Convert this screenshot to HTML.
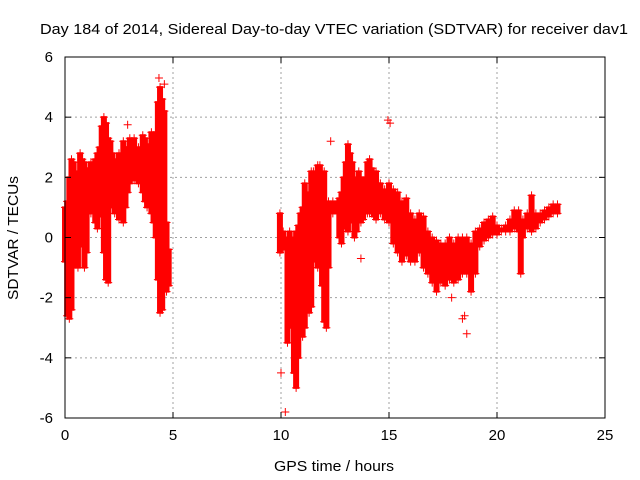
<!DOCTYPE html>
<html><head><meta charset="utf-8"><style>
body{margin:0;background:#fff}
svg{display:block;font-family:"Liberation Sans",sans-serif}
</style></head><body>
<svg id="chart" width="640" height="480">
<text x="334" y="34" text-anchor="middle" font-size="15" textLength="588" lengthAdjust="spacingAndGlyphs">Day 184 of 2014, Sidereal Day-to-day VTEC variation (SDTVAR) for receiver dav1</text>
<text x="334" y="471" text-anchor="middle" font-size="15" textLength="120" lengthAdjust="spacingAndGlyphs">GPS time / hours</text>
<text transform="translate(18,238) rotate(-90)" text-anchor="middle" font-size="15" textLength="124" lengthAdjust="spacingAndGlyphs">SDTVAR / TECUs</text>
<g id="grid"></g><g id="marks"></g><g id="axes"></g>
</svg>
<script>
const times=[0,0.1,0.2,0.3,0.4,0.5,0.6,0.7,0.8,0.9,1.0,1.1,1.2,1.3,1.4,1.5,1.6,1.7,1.8,1.9,2.0,2.1,2.2,2.3,2.4,2.5,2.6,2.7,2.8,2.9,3.0,3.2,3.4,3.6,3.7,3.8,3.9,4.0,4.1,4.2,4.3,4.4,4.5,4.6,4.7,4.8,
9.95,10.1,10.3,10.4,10.5,10.6,10.7,10.8,10.9,11.0,11.1,11.2,11.3,11.4,11.5,11.6,11.7,11.8,11.9,12.0,12.1,12.2,12.4,12.6,12.7,12.8,12.9,13.0,13.1,13.2,13.3,13.4,13.5,13.6,13.7,13.8,13.9,14.0,14.1,14.2,14.3,14.4,14.5,14.6,14.8,15.0,15.2,15.4,15.6,15.8,16.0,16.2,16.4,16.6,16.8,17.0,17.2,17.4,17.6,17.8,18.0,18.2,18.4,18.6,18.8,19.0,19.2,19.4,19.6,19.8,20.0,20.2,20.4,20.6,20.8,21.0,21.1,21.2,21.4,21.6,21.8,22.0,22.2,22.4,22.6,22.8];
const lows=[-0.8,-2.6,-2.7,-2.4,-1.0,-0.8,-1.0,-0.3,0.0,-1.0,-0.5,0.8,0.8,0.9,0.5,0.3,0.7,0.8,-0.5,-1.4,-1.5,1.0,1.0,0.8,0.9,0.6,1.0,0.5,1.0,1.5,1.8,1.9,1.8,1.5,1.2,1.0,1.3,0.8,0.5,0.0,-1.4,-2.5,-2.4,-0.8,-1.8,-1.6,
-0.5,-0.4,-3.5,-3.0,-2.4,-4.5,-5.0,-4.0,-3.0,-3.3,-3.0,-2.0,-2.5,-2.3,0.8,-0.8,-1.0,-0.5,-1.6,-2.8,-3.0,-1.0,0.8,0.8,0.0,-0.2,0.3,0.6,0.2,0.5,0.5,0.0,0.2,0.8,0.5,0.6,0.8,0.8,0.8,0.8,0.7,0.6,1.0,0.8,0.6,0.5,-0.2,-0.5,-0.8,-0.6,-0.8,-0.8,-0.5,-1.0,-1.2,-1.5,-1.8,-1.5,-1.6,-1.4,-1.5,-1.4,-1.2,-1.2,-1.8,-1.2,-0.3,-0.1,0.0,0.1,0.1,0.2,0.2,0.2,0.3,0.2,-1.2,0.0,0.3,0.2,0.3,0.5,0.6,0.7,0.8,0.8];
const highs=[1.0,1.2,2.0,2.6,2.5,2.2,2.0,2.8,2.6,2.5,2.0,2.3,2.5,2.4,2.6,2.8,3.0,3.7,4.0,3.8,3.3,3.2,2.8,2.6,2.5,2.8,2.7,3.2,3.0,3.0,3.3,3.3,3.0,3.4,3.3,3.1,3.0,3.5,3.3,3.5,4.5,5.0,4.6,4.2,0.5,-0.4,
0.8,0.2,0.0,0.2,0.0,-0.7,0.2,0.4,0.8,1.0,1.8,1.5,0.5,2.2,2.2,2.0,2.4,2.4,2.0,2.2,1.0,1.2,1.2,1.2,1.3,1.5,2.0,2.5,3.1,2.8,2.5,2.0,1.8,2.2,2.0,1.6,2.0,2.5,2.6,2.3,2.1,2.2,1.8,1.8,1.6,1.8,1.6,1.5,1.2,1.3,0.8,0.6,0.8,0.7,0.2,0.0,-0.1,-0.2,-0.2,0.0,-0.2,0.0,0.0,0.0,-0.2,0.2,0.3,0.5,0.6,0.7,0.4,0.3,0.4,0.6,0.9,0.9,0.6,0.6,0.8,1.4,0.8,0.8,0.9,1.0,1.1,1.1];
const outlierTimes=[2.9,4.35,4.6,10.0,10.2,12.3,14.95,15.05,13.7,18.4,18.6,18.5,17.9];
const outlierValues=[3.75,5.3,5.1,-4.5,-5.8,3.2,3.9,3.8,-0.7,-2.7,-3.2,-2.6,-2.0];
const xTicks=[0,5,10,15,20,25];
const yTicks=[-6,-4,-2,0,2,4,6];

const L=65,R=605,T=57,B=418;
const xs=v=>L+(v-0)/25*(R-L);
const ys=v=>B-(v+6)/12*(B-T);
const NS='http://www.w3.org/2000/svg';
function mk(tag,attrs,parent){const e=document.createElementNS(NS,tag);for(const k in attrs)e.setAttribute(k,attrs[k]);parent.appendChild(e);return e;}
const grid=document.getElementById('grid'),marks=document.getElementById('marks'),axes=document.getElementById('axes');

xTicks.forEach(t=>{
  const x=xs(t);
  if(t>0&&t<25){const g=mk('line',{x1:x,x2:x,y1:T,y2:B,stroke:'#a0a0a0','stroke-dasharray':'2,3'},grid);
  
  }
  mk('line',{x1:x,x2:x,y1:B,y2:B-6,stroke:'#000'},axes);
  mk('line',{x1:x,x2:x,y1:T,y2:T+6,stroke:'#000'},axes);
  const tx=mk('text',{x:x,y:B+22,'text-anchor':'middle','font-size':'15'},axes);
  tx.textContent=t;
  
  
});
yTicks.forEach(t=>{
  const y=ys(t);
  if(t>-6&&t<6){const g=mk('line',{x1:L,x2:R,y1:y,y2:y,stroke:'#a0a0a0','stroke-dasharray':'2,3'},grid);
  
  }
  mk('line',{x1:L,x2:L+6,y1:y,y2:y,stroke:'#000'},axes);
  mk('line',{x1:R,x2:R-6,y1:y,y2:y,stroke:'#000'},axes);
  const tx=mk('text',{x:L-12,y:y+5,'text-anchor':'end','font-size':'15'},axes);
  tx.textContent=t;
  
  
});
const frame=mk('rect',{x:L,y:T,width:R-L,height:B-T,fill:'none',stroke:'#000'},axes);



function plus(x,y){mk('path',{d:`M${x-4},${y}h8M${x},${y-4}v8`,stroke:'red','stroke-width':1},marks);}
times.forEach((t,i)=>{
  const x=xs(t),y1=ys(lows[i]),y2=ys(highs[i]);
  const b=mk('line',{x1:x,x2:x,y1:y1+1,y2:y2-1,stroke:'red','stroke-width':6},marks);
  
  
  plus(x,y1);plus(x,y2);
});
outlierTimes.forEach((t,i)=>{plus(xs(t),ys(outlierValues[i]));});
</script>
</body></html>
